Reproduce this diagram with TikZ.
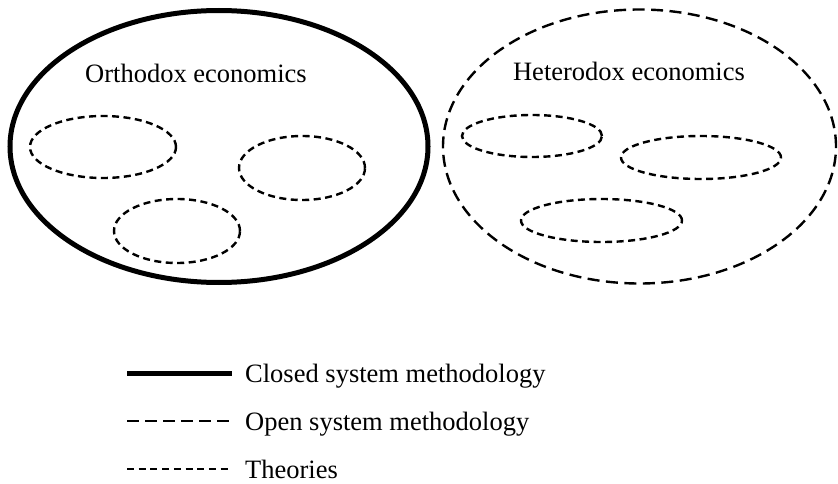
\documentclass[tikz,border=0pt]{standalone}
\usepackage{fontspec}
\setmainfont{Liberation Serif}
\usetikzlibrary{shapes.geometric}

\tikzset{
  label text/.style={font=\fontsize{26.5}{30}\selectfont, inner sep=0pt},
  oval/.style={ellipse, inner sep=0pt, outer sep=0pt},
  closedsys/.style={line width=5pt},
  opensys/.style={line width=2.4pt, dash pattern=on 12pt off 6.5pt},
  theory/.style={line width=2.4pt, dash pattern=on 7pt off 4.5pt},
}

\begin{document}
\begin{tikzpicture}[x=1pt, y=-1pt]
  \useasboundingbox (0,0) rectangle (838,484);

  % orthodox economics: closed system
  \node[oval, closedsys, draw, minimum width=418pt, minimum height=272pt] (ortho) at (219,146.5) {};
  \node[label text, anchor=base] (orthotxt) at (196,83) {Orthodox economics};
  \node[oval, theory, draw, minimum width=146pt, minimum height=62pt] (ot1) at (103,147) {};
  \node[oval, theory, draw, minimum width=126pt, minimum height=64pt] (ot2) at (302,168) {};
  \node[oval, theory, draw, minimum width=126pt, minimum height=64pt] (ot3) at (177,231) {};

  % heterodox economics: open system
  \node[oval, opensys, draw, minimum width=393pt, minimum height=274pt] (hetero) at (639.5,146.5) {};
  \node[label text, anchor=base] (heterotxt) at (629,81) {Heterodox economics};
  \node[oval, theory, draw, minimum width=140pt, minimum height=42pt] (ht1) at (532,136) {};
  \node[oval, theory, draw, minimum width=160pt, minimum height=43pt] (ht2) at (701,157.5) {};
  \node[oval, theory, draw, minimum width=161pt, minimum height=43pt] (ht3) at (601.5,220.5) {};

  % legend
  \coordinate (l1a) at (127,373);  \coordinate (l1b) at (232,373);
  \coordinate (l2a) at (127,421);  \coordinate (l2b) at (232,421);
  \coordinate (l3a) at (127,469);  \coordinate (l3b) at (232,469);
  \draw[closedsys] (l1a) -- (l1b);
  \draw[opensys, dash pattern=on 12pt off 6pt] (l2a) -- (l2b);
  \draw[theory, dash pattern=on 7pt off 4.7pt] (l3a) -- (l3b);
  \node[label text, anchor=base west] (leg1) at (245,382) {Closed system methodology};
  \node[label text, anchor=base west] (leg2) at (245,430) {Open system methodology};
  \node[label text, anchor=base west] (leg3) at (245,478) {Theories};
\end{tikzpicture}
\end{document}
